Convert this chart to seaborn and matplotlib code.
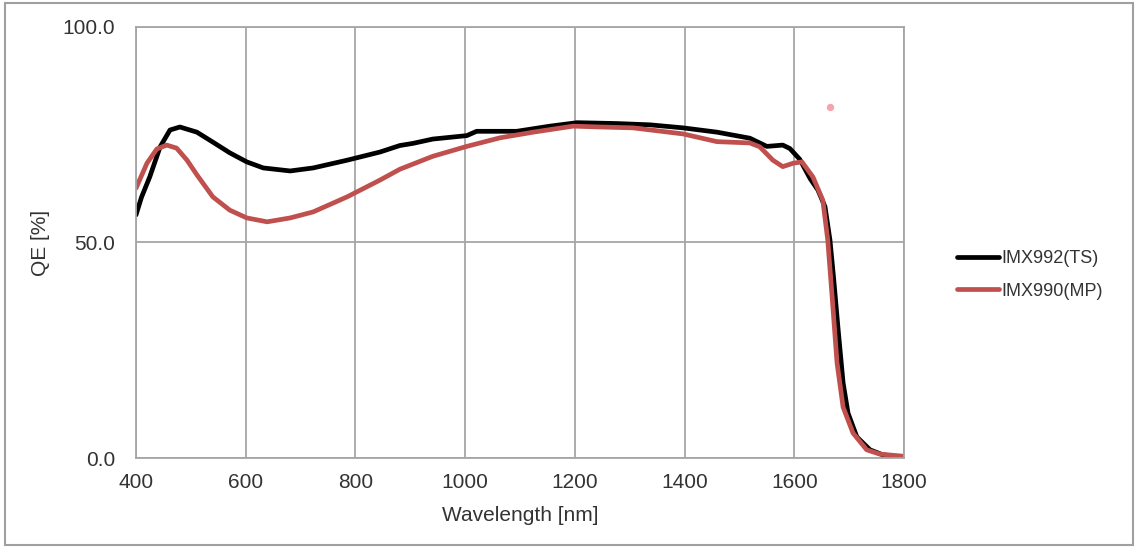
import pandas as pd
import numpy as np
import matplotlib.pyplot as plt
import matplotlib.patches as mpatches
import seaborn as sns

# IMX992(TS) curve
wl_ts = [400, 410, 425, 444, 462, 480, 511, 540, 571, 602, 632, 681, 723, 785, 845,
         881, 905, 941, 1003, 1021, 1094, 1155, 1204, 1277, 1337, 1397, 1459, 1519,
         1550, 1579, 1592, 1610, 1629, 1643, 1656, 1665, 1672, 1680, 1689, 1698,
         1714, 1738, 1760, 1780, 1800]
qe_ts = [56.4, 60.5, 65.2, 72.2, 76.1, 76.8, 75.6, 73.3, 70.8, 68.7, 67.3, 66.6, 67.3,
         69.1, 71.0, 72.5, 73.0, 74.0, 74.8, 75.8, 75.8, 77.0, 77.8, 77.6, 77.3, 76.6,
         75.6, 74.2, 72.3, 72.6, 71.8, 69.3, 64.8, 62.2, 58.3, 50.6, 41.3, 29.7, 17.4,
         10.4, 4.9, 1.9, 0.8, 0.4, 0.3]

# IMX990(MP) curve
wl_mp = [400, 420, 438, 456, 474, 493, 511, 540, 571, 602, 639, 681, 723, 785, 845,
         881, 941, 1003, 1064, 1124, 1197, 1246, 1306, 1397, 1459, 1519, 1537, 1561,
         1579, 1598, 1614, 1634, 1652, 1661, 1669, 1678, 1689, 1707, 1732, 1756, 1800]
qe_mp = [62.6, 68.4, 71.7, 72.6, 71.9, 69.1, 65.7, 60.6, 57.5, 55.7, 54.8, 55.7, 57.1,
         60.6, 64.5, 67.0, 70.0, 72.3, 74.3, 75.6, 77.0, 76.8, 76.6, 75.2, 73.4, 73.1,
         72.2, 69.1, 67.6, 68.4, 68.7, 65.2, 59.8, 50.6, 37.4, 22.0, 11.8, 5.8, 1.9,
         0.9, 0.4]

labels = ["IMX992(TS)", "IMX990(MP)"]
colors = ["#000000", "#c0504d"]

# stray pink dot in the original
stray_wl = [1665]
stray_qe = [81.4]

xticks = [400, 600, 800, 1000, 1200, 1400, 1600, 1800]
yticks = [0, 50, 100]

df = pd.concat([
    pd.DataFrame({"wl": wl_ts, "qe": qe_ts, "sensor": labels[0]}),
    pd.DataFrame({"wl": wl_mp, "qe": qe_mp, "sensor": labels[1]}),
])

sns.set_style("whitegrid")
plt.rcParams["font.family"] = ["Liberation Sans", "DejaVu Sans"]
grid_c = "#a6a6a6"
text_c = "#333333"

fig = plt.figure(figsize=(11.35, 5.48), dpi=100)
ax = fig.add_axes([136 / 1135, 1 - 458 / 548, (904 - 136) / 1135, (458 - 27) / 548])

sns.lineplot(data=df, x="wl", y="qe", hue="sensor", palette=colors,
             hue_order=labels, linewidth=3.4, ax=ax, legend=False, sort=True)
sns.scatterplot(x=stray_wl, y=stray_qe, color="#f5a3ad", s=28, marker="o",
                linewidth=0, ax=ax)

ax.set_xlim(400, 1800)
ax.set_ylim(0, 100)
ax.set_xticks(xticks)
ax.set_yticks(yticks)
ax.set_yticklabels([f"{v:.1f}" for v in yticks])
ax.grid(True, color=grid_c, linewidth=1.3)
for s in ax.spines.values():
    s.set_color(grid_c)
    s.set_linewidth(1.3)
ax.tick_params(axis="both", length=5, width=1.3, color=grid_c, direction="out",
               labelsize=15, labelcolor=text_c)
ax.tick_params(axis="x", pad=6)
ax.tick_params(axis="y", pad=10)
ax.set_xlabel("Wavelength [nm]", fontsize=15, color=text_c, labelpad=10)
ax.set_ylabel("QE [%]", fontsize=15, color=text_c, labelpad=9)

handles = [plt.Line2D([], [], color=c, linewidth=3.4) for c in colors]
fig.legend(handles, labels, loc="center left", bbox_to_anchor=(957 / 1135, 1 - 275 / 548),
           frameon=False, fontsize=13, handlelength=2.3, handletextpad=0.15,
           labelspacing=0.85, borderpad=0, borderaxespad=0, labelcolor=text_c)

fig.patches.append(mpatches.Rectangle((5 / 1135, 3 / 548), 1128 / 1135, 542 / 548,
                                      transform=fig.transFigure, fill=False,
                                      edgecolor="#a0a0a0", linewidth=1.5))

fig.savefig("out.png", dpi=100, facecolor="white")
plt.close()
